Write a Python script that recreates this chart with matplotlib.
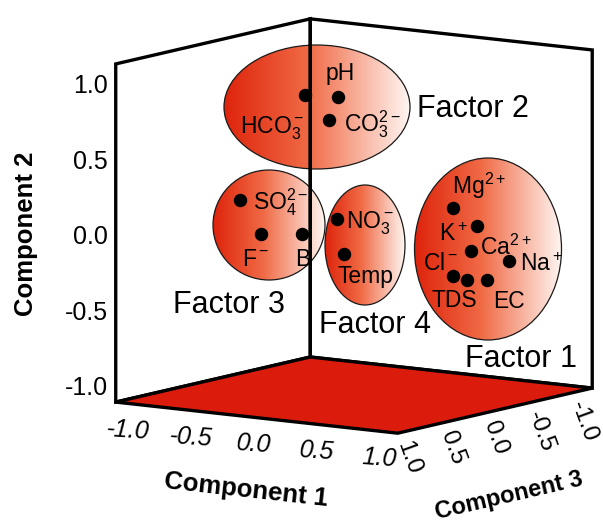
import numpy as np
import matplotlib
matplotlib.use("Agg")
import matplotlib.pyplot as plt
from matplotlib.patches import Ellipse
from matplotlib.colors import LinearSegmentedColormap
from mpl_toolkits.mplot3d import proj3d

plt.rcParams["font.family"] = ["Liberation Sans", "DejaVu Sans"]
plt.rcParams["mathtext.fontset"] = "custom"
plt.rcParams["mathtext.rm"] = "Liberation Sans"
plt.rcParams["mathtext.it"] = "Liberation Sans:italic"
plt.rcParams["mathtext.bf"] = "Liberation Sans:bold"

# ---- rotated component loadings -------------------------------------------
variables = ["HCO3", "pH", "CO3", "SO4", "F", "B", "NO3", "Temp",
             "Mg", "K", "Ca", "Cl", "TDS", "EC", "Na"]
var_labels = [r"HCO$_3^-$", "pH", r"CO$_3^{2-}$", r"SO$_4^{2-}$", r"F$^-$", "B",
              r"NO$_3^-$", "Temp", r"Mg$^{2+}$", r"K$^+$", r"Ca$^{2+}$", r"Cl$^-$",
              "TDS", "EC", r"Na$^+$"]
comp1 = [-0.31, -0.05, -0.12, -0.42, -0.25, 0.08, 0.08, 0.13,
         0.52, 0.71, 0.66, 0.52, 0.63, 0.79, 0.96]
comp2 = [0.87, 0.88, 0.72, 0.24, 0.03, 0.06, 0.11, -0.12,
         0.13, 0.03, -0.14, -0.32, -0.34, -0.32, -0.18]
comp3 = [0.10, 0.10, 0.10, 0.70, 0.70, 0.70, 0.30, 0.30,
         -0.40, -0.40, -0.40, -0.40, -0.40, -0.40, -0.40]

factor_names = ["Factor 1", "Factor 2", "Factor 3", "Factor 4"]
tick_values = [-1.0, -0.5, 0.0, 0.5, 1.0]
tick_labels = ["-1.0", "-0.5", "0.0", "0.5", "1.0"]
axis_range = (-1.10, 1.14)

# ---- label placement (pixel offsets from each point: dx, dy downwards, ha) --
label_offsets = {
    "HCO3": (-33, 39, "center"), "pH": (2, -17, "center"),
    "CO3": (15, 11, "left"), "SO4": (13, 9, "left"),
    "F": (-5, 32, "center"), "B": (0, 32, "center"),
    "NO3": (9, 10, "left"), "Temp": (22, 29, "center"),
    "Mg": (-1, -14, "left"), "K": (-10, 15, "right"),
    "Ca": (9, 4, "left"), "Cl": (5, -6, "right"),
    "TDS": (-13, 27, "center"), "EC": (22, 28, "center"),
    "Na": (11, 10, "left"),
}
# factor ellipses (centre x, centre y, width, height in pixels) and captions
factor_ellipses = {
    "Factor 2": (317, 107, 186, 124),
    "Factor 3": (269, 225, 112, 110),
    "Factor 4": (365, 245, 80, 120),
    "Factor 1": (488, 249, 147, 182),
}
factor_captions = {
    "Factor 2": (417, 117, "left"),
    "Factor 3": (229, 313, "center"),
    "Factor 4": (375, 333, "center"),
    "Factor 1": (521, 367, "center"),
}

W, H = 603, 526
fig = plt.figure(figsize=(W / 100, H / 100), dpi=100)
fig.patch.set_facecolor("white")

# flat overlay in pixel units, drawn beneath the 3-D box
ax2 = fig.add_axes([0, 0, 1, 1], zorder=0)
ax2.set_axis_off()

# ---- 3-D frame -----------------------------------------------------------
side = 576.0
ax3d = fig.add_axes([58.2 / W, 4.2 / H, side / W, side / H],
                    projection="3d", proj_type="ortho", zorder=1)
ax3d.patch.set_facecolor((1, 1, 1, 0))
ax3d.view_init(elev=9.2, azim=34.6)
ax3d.set_box_aspect((1, 1, 1), zoom=1.0)
# x -> Component 3, y -> Component 1, z -> Component 2
ax3d.set_xlim(*axis_range, view_margin=0)
ax3d.set_ylim(*axis_range, view_margin=0)
ax3d.set_zlim(*axis_range, view_margin=0)
ax3d.set_xticks(tick_values)
ax3d.set_yticks(tick_values)
ax3d.set_zticks(tick_values)
ax3d.set_xticklabels([])
ax3d.set_yticklabels([])
ax3d.set_zticklabels([])
ax3d.grid(False)

floor_red = "#DB1B0B"
for axis, face in ((ax3d.xaxis, (1, 1, 1, 0)), (ax3d.yaxis, (1, 1, 1, 0)),
                   (ax3d.zaxis, floor_red)):
    axis.set_pane_color(face)
    axis.pane.set_alpha(None)
    axis.pane.set_facecolor(face)
    axis.pane.set_closed(True)
    axis.pane.set_edgecolor("black")
    axis.pane.set_linewidth(2.4)
    axis.line.set_linewidth(0)
    axis._axinfo["tick"]["inward_factor"] = 0.0
    axis._axinfo["tick"]["outward_factor"] = 0.0

ax3d.scatter(comp3, comp1, comp2, s=75, c="black", depthshade=False)

fig.canvas.draw()

ax2.set_xlim(0, W)
ax2.set_ylim(H, 0)


def to_px(c1, c2, c3):
    """Project component coordinates onto the overlay's pixel frame."""
    c1, c2, c3 = (np.atleast_1d(np.asarray(v, float)) for v in (c1, c2, c3))
    x2, y2, _ = proj3d.proj_transform(c3, c1, c2, ax3d.M)
    disp = ax3d.transData.transform(np.column_stack([x2, y2]))
    return ax2.transData.inverted().transform(disp)


# ---- factor ellipses with a red-to-white gradient ---------------------------
grad_cmap = LinearSegmentedColormap.from_list(
    "factor", [(0.0, "#DE240C"), (0.45, "#F06A45"), (1.0, "#FFF6F2")])
gradient = np.linspace(0, 1, 256).reshape(1, -1)
for name, (cx, cy, w, h) in factor_ellipses.items():
    ell = Ellipse((cx, cy), w, h, facecolor="none", edgecolor="#1a1a1a",
                  lw=0.9, zorder=3)
    ax2.add_patch(ell)
    im = ax2.imshow(gradient, cmap=grad_cmap, aspect="auto",
                    extent=(cx - w / 2, cx + w / 2, cy + h / 2, cy - h / 2),
                    interpolation="bilinear", zorder=2)
    im.set_clip_path(ell)
    tx, ty, ha = factor_captions[name]
    ax2.text(tx, ty, name, fontsize=22, ha=ha, va="baseline", zorder=4)

ax2.set_xlim(0, W)
ax2.set_ylim(H, 0)

# ---- variable labels ---------------------------------------------------------
pts = to_px(comp1, comp2, comp3)
for key, text, (px, py) in zip(variables, var_labels, pts):
    dx, dy, ha = label_offsets[key]
    ax2.annotate(text, xy=(px, py), xytext=(dx, -dy),
                 textcoords="offset pixels", ha=ha, va="baseline",
                 fontsize=16.5, zorder=5)

lo, hi = axis_range
n = len(tick_values)

# Component 2 (vertical) tick labels along the left edge
zt = to_px([lo] * n, tick_values, [hi] * n)
for (px, py), lab in zip(zt, tick_labels):
    ax2.annotate(lab, xy=(px, py), xytext=(-8, -8), textcoords="offset pixels",
                 ha="right", va="baseline", fontsize=18)

# Component 1 tick labels along the front-left floor edge
yt = to_px(tick_values, [lo] * n, [hi] * n)
for (px, py), lab in zip(yt, tick_labels):
    ax2.annotate(lab, xy=(px, py), xytext=(-1, -34), textcoords="offset pixels",
                 ha="center", va="baseline", fontsize=18, style="italic",
                 rotation=-4, rotation_mode="anchor")

# Component 3 tick labels along the front-right floor edge
xt = to_px([hi] * n, [lo] * n, tick_values)
for (px, py), lab in zip(xt, tick_labels):
    ax2.annotate(lab, xy=(px, py), xytext=(-7, -12), textcoords="offset pixels",
                 ha="left", va="center", fontsize=17.5,
                 rotation=-70, rotation_mode="anchor")

# ---- axis titles, aligned with the projected edges ---------------------------
e1 = to_px([lo, hi], [lo, lo], [hi, hi])
ang1 = -np.degrees(np.arctan2(e1[1, 1] - e1[0, 1], e1[1, 0] - e1[0, 0]))
m1 = e1.mean(axis=0)
ax2.text(m1[0] - 11, m1[1] + 72, "Component 1", fontsize=18.5,
         fontweight="bold", ha="center", va="center", rotation=ang1,
         rotation_mode="anchor")

e3 = to_px([hi, hi], [lo, lo], [hi, lo])
ang3 = -np.degrees(np.arctan2(e3[1, 1] - e3[0, 1], e3[1, 0] - e3[0, 0]))
m3 = e3.mean(axis=0)
ax2.text(m3[0] + 14, m3[1] + 85, "Component 3", fontsize=17,
         fontweight="bold", ha="center", va="center", rotation=ang3,
         rotation_mode="anchor")

ax2.text(26, 234, "Component 2", fontsize=18.5, fontweight="bold",
         ha="center", va="center", rotation=90)

fig.savefig("out.png", dpi=100)
